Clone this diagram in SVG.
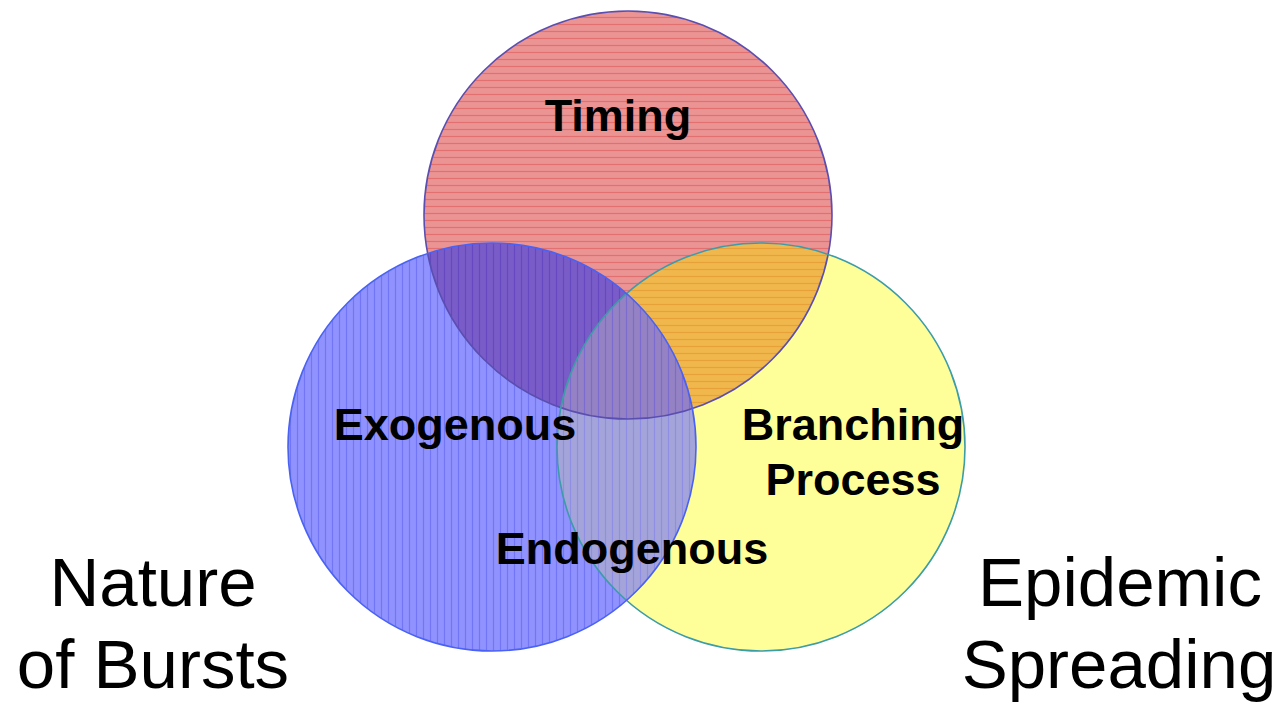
<svg xmlns="http://www.w3.org/2000/svg" width="1281" height="704" viewBox="0 0 1281 704">
  <defs>
    <style>
      .lbl { font-family: "Liberation Sans", Arial, sans-serif; font-weight: bold; font-size: 45px; fill: #000; text-anchor: middle; }
      .big { font-family: "Liberation Sans", Arial, sans-serif; font-size: 69px; fill: #000; text-anchor: middle; }
    </style>
    <pattern id="hRed" width="8" height="7" patternUnits="userSpaceOnUse">
      <rect width="8" height="7" fill="#eb9494"/>
      <line x1="0" y1="3.5" x2="8" y2="3.5" stroke="#e27070" stroke-width="1.2"/>
    </pattern>
    <pattern id="vBlue" width="7" height="8" patternUnits="userSpaceOnUse">
      <rect width="7" height="8" fill="#9092ff"/>
      <line x1="3.5" y1="0" x2="3.5" y2="8" stroke="#7276f4" stroke-width="1.2"/>
    </pattern>
    <pattern id="hOrange" width="8" height="7" patternUnits="userSpaceOnUse">
      <rect width="8" height="7" fill="#f0b84c"/>
      <line x1="0" y1="3.5" x2="8" y2="3.5" stroke="#e8a038" stroke-width="1.2"/>
    </pattern>
    <pattern id="vPurple" width="7" height="8" patternUnits="userSpaceOnUse">
      <rect width="7" height="8" fill="#7a5cc8"/>
      <line x1="3.5" y1="0" x2="3.5" y2="8" stroke="#6648c0" stroke-width="1.2"/>
    </pattern>
    <pattern id="vGrey" width="7" height="8" patternUnits="userSpaceOnUse">
      <rect width="7" height="8" fill="#a4a4da"/>
      <line x1="3.5" y1="0" x2="3.5" y2="8" stroke="#8e8ee4" stroke-width="1.2"/>
    </pattern>
    <pattern id="vMauve" width="7" height="8" patternUnits="userSpaceOnUse">
      <rect width="7" height="8" fill="#9482c4"/>
      <line x1="3.5" y1="0" x2="3.5" y2="8" stroke="#7c6cd0" stroke-width="1.2"/>
    </pattern>
    <clipPath id="cRed"><circle cx="628" cy="215" r="204"/></clipPath>
    <clipPath id="cBlue"><circle cx="492" cy="447" r="204"/></clipPath>
    <clipPath id="cYellow"><circle cx="761" cy="447" r="204"/></clipPath>
  </defs>

  <rect width="1281" height="704" fill="#ffffff"/>

  <!-- base circles -->
  <g id="timing">
    <circle cx="628" cy="215" r="204" fill="url(#hRed)"/>
  </g>
  <g id="branching">
    <circle cx="761" cy="447" r="204" fill="#ffff99"/>
  </g>
  <g id="nature">
    <circle cx="492" cy="447" r="204" fill="url(#vBlue)"/>
  </g>

  <!-- overlap regions -->
  <g id="overlaps">
    <g clip-path="url(#cRed)">
      <circle cx="761" cy="447" r="204" fill="url(#hOrange)"/>
      <circle cx="492" cy="447" r="204" fill="url(#vPurple)"/>
    </g>
    <g clip-path="url(#cYellow)">
      <circle cx="492" cy="447" r="204" fill="url(#vGrey)"/>
      <g clip-path="url(#cRed)">
        <circle cx="492" cy="447" r="204" fill="url(#vMauve)"/>
      </g>
    </g>
  </g>

  <!-- outlines -->
  <g id="outlines" fill="none" stroke-width="1.6">
    <circle cx="628" cy="215" r="204" stroke="#5a4fb0"/>
    <circle cx="761" cy="447" r="204" stroke="#3c9ca8"/>
    <circle cx="492" cy="447" r="204" stroke="#4a62f4"/>
  </g>

  <!-- labels -->
  <g id="labels">
    <text class="lbl" x="618" y="131">Timing</text>
    <text class="lbl" x="455" y="440">Exogenous</text>
    <text class="lbl" x="853" y="440">Branching</text>
    <text class="lbl" x="853" y="495">Process</text>
    <text class="lbl" x="632" y="564">Endogenous</text>
    <text class="big" x="153" y="606">Nature</text>
    <text class="big" x="153" y="688">of Bursts</text>
    <text class="big" x="1120" y="606">Epidemic</text>
    <text class="big" x="1119" y="688">Spreading</text>
  </g>
</svg>
